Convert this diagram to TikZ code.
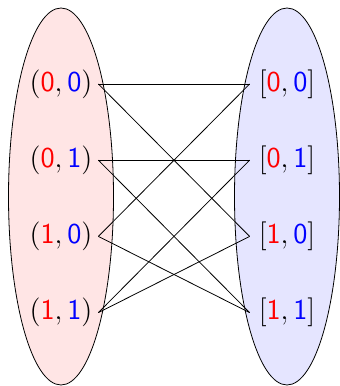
\documentclass[tikz,border=0pt]{standalone}
\usepackage{amsmath,amssymb}
\usepackage{tikz}
\usetikzlibrary{positioning, shapes.geometric}

\newcommand{\redbit}[1]{\textcolor{red}{\mathsf{#1}}}
\newcommand{\bluebit}[1]{\textcolor{blue}{\mathsf{#1}}}

\begin{document}
\begin{tikzpicture}[
  node distance=13.7pt,
  set/.style={draw, ellipse, minimum width=52.5pt, minimum height=188.5pt, inner sep=0pt},
  elem/.style={minimum width=37pt, minimum height=24pt, inner sep=0pt, font=\fontsize{14}{17}\selectfont},
  link/.style={thin}
]
  \useasboundingbox (0pt,0pt) rectangle (169.5pt,193pt);
  \node[set, fill=red!10] (dom) at (30.5pt,94.75pt) {};
  \node[set, fill=blue!10] (cod) at (143.5pt,94.75pt) {};

  \node[elem] (l00) at (30.5pt,151pt) {$(\redbit{0},\bluebit{0})$};
  \node[elem, below=of l00] (l01) {$(\redbit{0},\bluebit{1})$};
  \node[elem, below=of l01] (l10) {$(\redbit{1},\bluebit{0})$};
  \node[elem, below=of l10] (l11) {$(\redbit{1},\bluebit{1})$};

  \node[elem] (r00) at (143.5pt,151pt) {$[\redbit{0},\bluebit{0}]$};
  \node[elem, below=of r00] (r01) {$[\redbit{0},\bluebit{1}]$};
  \node[elem, below=of r01] (r10) {$[\redbit{1},\bluebit{0}]$};
  \node[elem, below=of r10] (r11) {$[\redbit{1},\bluebit{1}]$};

  \draw[link] (l00.east) -- (r00.west);
  \draw[link] (l00.east) -- (r10.west);
  \draw[link] (l01.east) -- (r01.west);
  \draw[link] (l01.east) -- (r11.west);
  \draw[link] (l10.east) -- (r00.west);
  \draw[link] (l10.east) -- (r11.west);
  \draw[link] (l11.east) -- (r01.west);
  \draw[link] (l11.east) -- (r10.west);
\end{tikzpicture}
\end{document}
